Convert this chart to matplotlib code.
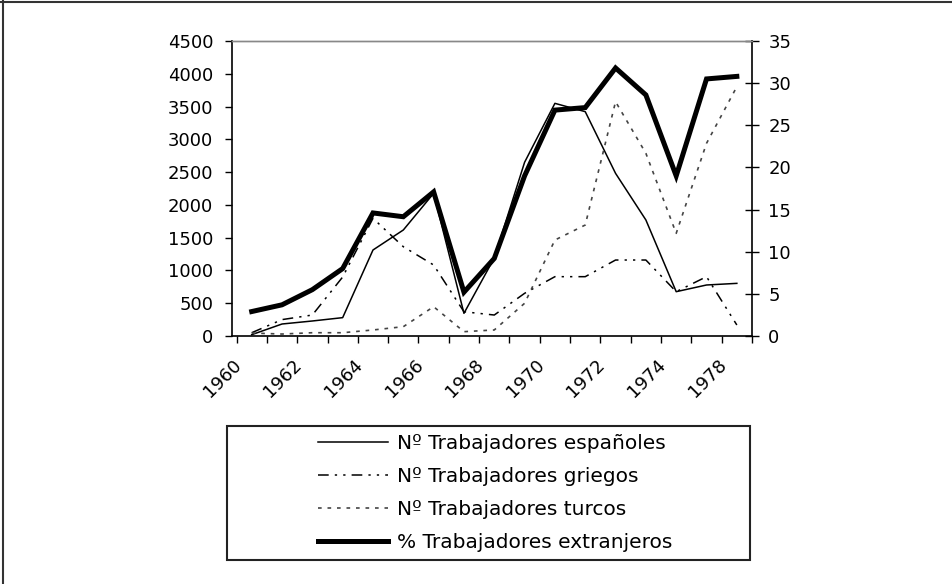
import matplotlib.pyplot as plt
import matplotlib.lines as mlines
import matplotlib.patches as mpatches
import numpy as np

plt.rcParams['font.family'] = ['DejaVu Sans']

# one value per category (17 years on the axis)
year_labels = ['1960', '1962', '1964', '1966', '1968', '1970', '1972', '1974', '1978']
espanoles = [20, 183, 229, 280, 1312, 1617, 2176, 346, 1190, 2650, 3549, 3422, 2481, 1770, 676, 778, 803]
griegos = [50, 250, 320, 900, 1795, 1362, 1083, 370, 320, 651, 905, 905, 1159, 1159, 676, 905, 168]
turcos = [45, 30, 50, 50, 92, 142, 447, 66, 92, 499, 1464, 1693, 3574, 2787, 1566, 2939, 3803]
extranjeros = [2.9, 3.7, 5.5, 8.0, 14.6, 14.15, 17.1, 5.2, 9.2, 19.0, 26.8, 27.1, 31.8, 28.6, 19.0, 30.5, 30.8]

W, H = 953, 584
fig = plt.figure(figsize=(W / 100, H / 100), dpi=100)
ax = fig.add_axes([232 / W, 1 - 336 / H, 520 / W, 295 / H])
ax2 = ax.twinx()

n = len(espanoles)
x = np.arange(n) + 0.5

l1, = ax.plot(x, espanoles, color='black', lw=1.1, label='Nº Trabajadores españoles')
l2, = ax.plot(x, griegos, color='black', lw=1.1, linestyle=(0, (7, 4, 1.5, 4, 1.5, 4)),
              label='Nº Trabajadores griegos')
l3, = ax.plot(x, turcos, color='#444444', lw=1.2, linestyle=(0, (2.2, 3.5)),
              label='Nº Trabajadores turcos')
l4, = ax2.plot(x, extranjeros, color='black', lw=3.6, solid_joinstyle='miter',
               label='% Trabajadores extranjeros')

ax.set_xlim(0, n)
ax.set_ylim(0, 4500)
ax.set_yticks(np.arange(0, 4501, 500))
ax2.set_ylim(0, 35)
ax2.set_yticks(np.arange(0, 36, 5))

# tick marks between categories, labels every two categories
ax.set_xticks(np.arange(0, n + 1), minor=True)
ax.set_xticks(np.arange(0, n, 2) - 0.15)
ax.set_xticklabels(year_labels, rotation=45, ha='right', va='top', rotation_mode='anchor')
ax.tick_params(axis='x', which='major', length=0, pad=14, labelsize=13)
ax.tick_params(axis='x', which='minor', length=5, width=1, direction='out')
ax.tick_params(axis='y', length=5, width=1, direction='out', pad=8.5, labelsize=13)
ax2.tick_params(axis='y', length=9.5, width=1, direction='inout', pad=7, labelsize=13)

for a in (ax, ax2):
    a.spines['top'].set_color('#888888')
    a.spines['top'].set_linewidth(1)
ax.spines['right'].set_visible(False)
ax.spines['left'].set_linewidth(1.2)
ax.spines['bottom'].set_linewidth(1.2)
ax2.spines['right'].set_linewidth(1.2)
ax2.spines['left'].set_visible(False)
ax2.spines['bottom'].set_visible(False)

# legend box below the plot
fig.add_artist(mpatches.Rectangle((227 / W, 1 - 560 / H), 523 / W, 134 / H,
                                  transform=fig.transFigure, fill=False,
                                  edgecolor='#222222', lw=1.5))
fig.legend(handles=[l1, l2, l3, l4], loc='upper left',
           bbox_to_anchor=(318 / W, 1 - 434 / H), frameon=False,
           fontsize=14.5, handlelength=3.5, handletextpad=0.4,
           labelspacing=0.7, borderpad=0, borderaxespad=0)

# outer frame (top and left edges only)
fig.add_artist(mlines.Line2D([3 / W, 3 / W], [0, 1], color='#333333', lw=1.5))
fig.add_artist(mlines.Line2D([0, 1], [1 - 2 / H, 1 - 2 / H], color='#333333', lw=1.5))

fig.savefig('out.png', dpi=100)
